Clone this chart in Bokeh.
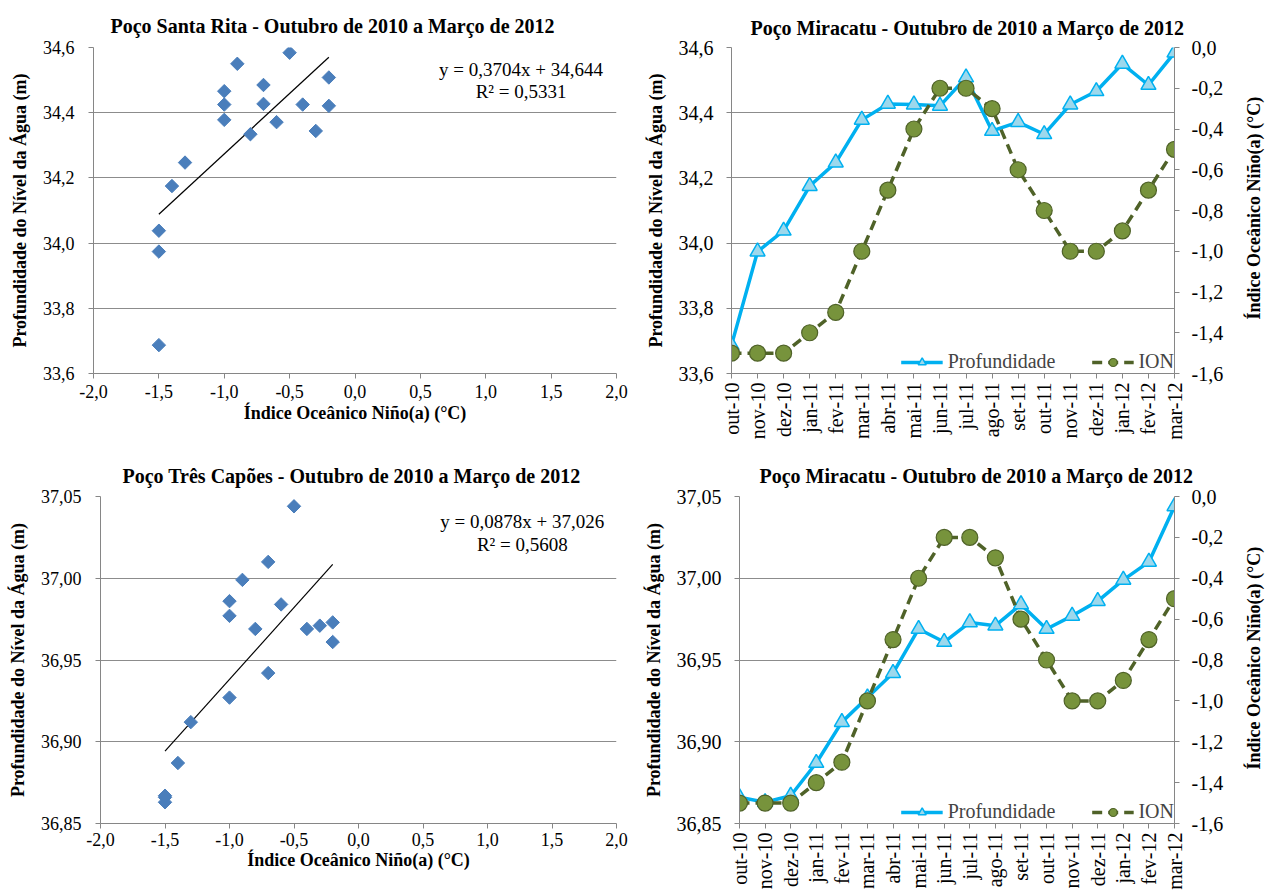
import math
from bokeh.plotting import figure
from bokeh.layouts import column, row
from bokeh.models import (FixedTicker, CustomJSTickFormatter, LinearAxis, Range1d,
                          Legend, LegendItem, Label)
from bokeh.embed import file_html
from bokeh.resources import INLINE

# ---------------- data ----------------
months = ["out-10", "nov-10", "dez-10", "jan-11", "fev-11", "mar-11", "abr-11", "mai-11", "jun-11",
          "jul-11", "ago-11", "set-11", "out-11", "nov-11", "dez-11", "jan-12", "fev-12", "mar-12"]
ion = [-1.5, -1.5, -1.5, -1.4, -1.3, -1.0, -0.7, -0.4, -0.2,
       -0.2, -0.3, -0.6, -0.8, -1.0, -1.0, -0.9, -0.7, -0.5]
prof_santa_rita = [33.687, 33.974, 34.038, 34.175, 34.247, 34.378, 34.427, 34.425, 34.421,
                   34.508, 34.344, 34.371, 34.334, 34.425, 34.466, 34.550, 34.485, 34.584]
prof_tres_capoes = [36.866, 36.863, 36.867, 36.887, 36.912, 36.927, 36.942, 36.969, 36.961,
                    36.973, 36.971, 36.984, 36.969, 36.977, 36.986, 36.999, 37.010, 37.044]
trend_santa_rita = (0.3704, 34.644, 0.5331)
trend_tres_capoes = (0.0878, 37.026, 0.5608)

title_sr = "Poço Santa Rita - Outubro de 2010 a Março de 2012"
title_tc = "Poço Três Capões - Outubro de 2010 a Março de 2012"
title_mi = "Poço Miracatu - Outubro de 2010 a Março de 2012"
ylabel = "Profundidade do Nível da Água (m)"
xlabel = "Índice Oceânico Niño(a) (°C)"
series_names = ["Profundidade", "ION"]

SERIF = "'Liberation Serif', 'Times New Roman', serif"
AXFONT = "Liberation Serif"
AX = "#868686"
GRID = "#8c8c8c"


def fmt(dec):
    return CustomJSTickFormatter(code="return tick.toFixed(%d).replace('.', ',');" % dec)


def ticks(lo, hi, step):
    n = int(round((hi - lo) / step))
    return [round(lo + i * step, 4) for i in range(n + 1)]


def style_axis(ax, tsize, lsize="18px"):
    ax.axis_line_color = AX
    ax.major_tick_line_color = AX
    ax.minor_tick_line_color = None
    ax.major_tick_in = 0
    ax.major_tick_out = 5
    ax.major_label_text_font = AXFONT
    ax.major_label_text_font_size = tsize
    ax.major_label_text_color = "black"
    ax.axis_label_text_font = AXFONT
    ax.axis_label_text_font_style = "bold"
    ax.axis_label_text_font_size = lsize
    ax.axis_label_text_color = "black"


def base_fig(w, h, bl, br, bt, bb, xr, yr, title, title_off, title_stand):
    p = figure(width=w, height=h, output_backend="svg", toolbar_location=None,
               x_range=xr, y_range=yr,
               min_border_left=bl, min_border_right=br, min_border_top=bt, min_border_bottom=bb)
    p.outline_line_color = None
    p.title.text = title
    p.title.align = "left"
    p.title.offset = title_off
    p.title.standoff = title_stand
    p.title.text_font = SERIF
    p.title.text_font_size = "20px"
    p.title.text_font_style = "bold"
    p.title.text_color = "black"
    p.xgrid.visible = False
    p.ygrid.grid_line_color = GRID
    p.ygrid.grid_line_width = 1
    return p


def scatter_fig(x, y, trend, ylo, yhi, ystep, ydec, w, h, bl, br, bt, bb, title, title_off,
                title_stand, eq_xy, xstand):
    p = base_fig(w, h, bl, br, bt, bb, Range1d(-2, 2), Range1d(ylo, yhi), title, title_off,
                 title_stand)
    p.xaxis.ticker = FixedTicker(ticks=ticks(-2, 2, 0.5))
    p.xaxis.formatter = fmt(1)
    p.yaxis.ticker = FixedTicker(ticks=ticks(ylo, yhi, ystep))
    p.yaxis.formatter = fmt(ydec)
    for ax in (p.xaxis[0], p.yaxis[0]):
        style_axis(ax, "18px")
    p.xaxis.axis_label = xlabel
    p.yaxis.axis_label = ylabel
    p.xaxis.major_label_standoff = xstand[0]
    p.xaxis.axis_label_standoff = xstand[1]
    p.yaxis.major_label_standoff = 14
    p.yaxis.axis_label_standoff = 10
    slope, inter, r2 = trend
    xs = [min(x), max(x)]
    p.line(xs, [slope * v + inter for v in xs], color="black", line_width=1.2)
    p.scatter(x, y, marker="square", angle=math.pi / 4, size=9.5,
              fill_color="#4A7EBB", line_color="#4A7EBB")
    t1 = ("y = %.4fx + %.3f" % (slope, inter)).replace(".", ",")
    t2 = ("R² = %.4f" % r2).replace(".", ",")
    ex, ey1, ey2 = eq_xy
    for txt, yy in ((t1, ey1), (t2, ey2)):
        p.add_layout(Label(x=ex, y=yy, text=txt, text_align="center", text_baseline="middle",
                           text_font=SERIF, text_font_size="19px", text_color="black"))
    return p


def line_fig(prof, ylo, yhi, ystep, ydec, w, h, bl, br, bt, bb, title, title_off, title_stand):
    xi = list(range(len(months)))
    n = len(months) - 1
    p = base_fig(w, h, bl, br, bt, bb, Range1d(0, n), Range1d(ylo, yhi), title, title_off,
                 title_stand)
    p.extra_y_ranges = {"ion": Range1d(-1.6, 0.0)}
    p.xaxis.ticker = FixedTicker(ticks=xi)
    p.xaxis.major_label_overrides = {i: m for i, m in enumerate(months)}
    p.xaxis.major_label_orientation = math.pi / 2
    p.yaxis.ticker = FixedTicker(ticks=ticks(ylo, yhi, ystep))
    p.yaxis.formatter = fmt(ydec)
    p.yaxis.axis_label = ylabel
    rax = LinearAxis(y_range_name="ion", ticker=FixedTicker(ticks=ticks(-1.6, 0.0, 0.2)),
                     formatter=fmt(1), axis_label="\u00a0" * 12 + xlabel)
    if "axis_label_orientation" in rax.properties():
        rax.axis_label_orientation = math.pi / 2
    if "axis_label_align" in rax.properties():
        rax.axis_label_align = "start"
    p.add_layout(rax, "right")
    for ax in (p.xaxis[0], p.yaxis[0], rax):
        style_axis(ax, "20px")
    p.xaxis.major_label_standoff = 4
    p.yaxis.major_label_standoff = 13
    p.yaxis.axis_label_standoff = 10
    rax.major_label_standoff = 12
    rax.axis_label_standoff = 28

    r1 = p.line(xi, prof, color="#00B0F0", line_width=3.5)
    r1m = p.scatter(xi, prof, marker="triangle", size=15, fill_color="#9DD8EC",
                    line_color="#00B0F0", line_width=1.5)
    r2 = p.line(xi, ion, y_range_name="ion", color="#4F6228", line_width=3.5, line_dash="10 6")
    r2m = p.scatter(xi, ion, y_range_name="ion", marker="circle", size=16,
                    fill_color="#77933C", line_color="#4F6228", line_width=1.2)
    leg = Legend(items=[LegendItem(label=series_names[0], renderers=[r1, r1m]),
                        LegendItem(label=series_names[1], renderers=[r2, r2m])],
                 orientation="horizontal", location="bottom_right")
    leg.border_line_color = None
    leg.background_fill_alpha = 0
    leg.label_text_font = SERIF
    leg.label_text_font_size = "20px"
    leg.glyph_width = 42
    leg.spacing = 36
    leg.margin = 0
    leg.padding = 4
    leg.label_standoff = 5
    p.add_layout(leg)
    return p


H1, H2 = 452, 440
p1 = scatter_fig(ion, prof_santa_rita, trend_santa_rita, 33.6, 34.6, 0.2, 1,
                 640, H1, 93, 24, 47, 65, title_sr, 17, 22, (1.27, 34.532, 34.466), (6, 2))
p2 = line_fig(prof_santa_rita, 33.6, 34.6, 0.2, 1,
              637, H1, 91, 82, 42, 79, title_mi, 19, 17)
p3 = scatter_fig(ion, prof_tres_capoes, trend_tres_capoes, 36.85, 37.05, 0.05, 2,
                 640, H2, 100, 24, 44, 50, title_tc, 22, 20, (1.27, 37.035, 37.0207), (4, 1))
p4 = line_fig(prof_tres_capoes, 36.85, 37.05, 0.05, 2,
              637, H2, 95, 82, 44, 60, title_mi, 20, 20)

layout = column(row(p1, p2), row(p3, p4))
open("out.html", "w").write(file_html(layout, INLINE))
